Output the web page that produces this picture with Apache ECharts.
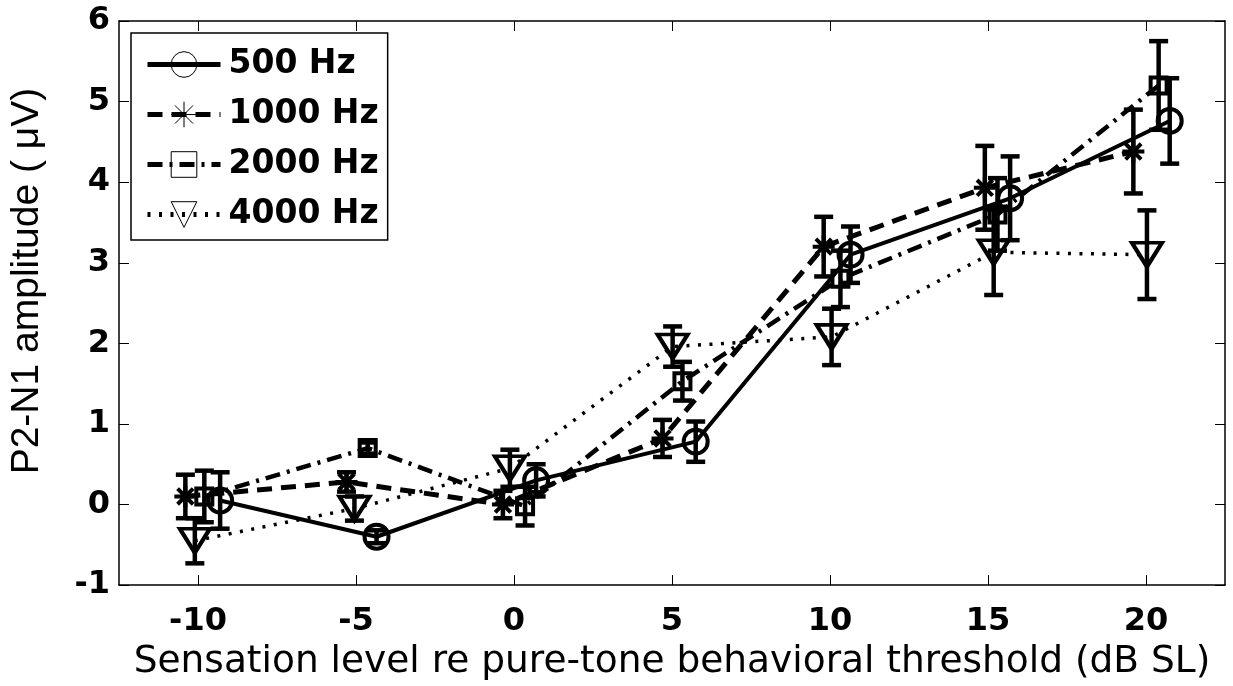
<!DOCTYPE html>
<html><head><meta charset="utf-8">
<script src="https://cdn.jsdelivr.net/npm/echarts@6/dist/echarts.min.js"></script>
<style>html,body{margin:0;padding:0;background:#fff}#c{width:1233px;height:686px}</style>
</head><body><div id="c"></div>
<script>
// ---- data ----
const seriesNames = ['500 Hz', '1000 Hz', '2000 Hz', '4000 Hz'];
const xTicks = [-10, -5, 0, 5, 10, 15, 20];
const yTicks = [-1, 0, 1, 2, 3, 4, 5, 6];
const xTitle = 'Sensation level re pure-tone behavioral threshold (dB SL)';
const yTitle = 'P2-N1 amplitude ( \u03bcV)';

const x500 = [-9.3, -4.35, 0.7, 5.75, 10.65, 15.7, 20.75];
const y500 = [0.05, -0.40, 0.30, 0.78, 3.10, 3.80, 4.76];
const e500 = [0.35, 0.08, 0.20, 0.25, 0.35, 0.52, 0.53];

const x1000 = [-10.4, -5.3, -0.35, 4.7, 9.8, 14.9, 19.6];
const y1000 = [0.10, 0.28, 0.00, 0.82, 3.20, 3.93, 4.38];
const e1000 = [0.27, 0.12, 0.17, 0.23, 0.37, 0.52, 0.52];

const x2000 = [-9.8, -4.63, 0.35, 5.33, 10.33, 15.3, 20.4];
const y2000 = [0.10, 0.70, -0.02, 1.53, 2.80, 3.60, 5.20];
const e2000 = [0.32, 0.07, 0.24, 0.24, 0.35, 0.45, 0.55];

const x4000 = [-10.1, -5.05, -0.13, 5.02, 10.05, 15.18, 20.03];
const y4000 = [-0.45, -0.05, 0.45, 1.96, 2.08, 3.13, 3.10];
const e4000 = [0.28, 0.15, 0.23, 0.25, 0.35, 0.53, 0.55];

// ---- helpers ----
const pts = (xs, ys) => xs.map((x, i) => [x, ys[i]]);
const errData = (xs, ys, es) => xs.map((x, i) => [x, ys[i], es[i]]);
const errRender = (params, api) => {
  const x = api.value(0), y = api.value(1), e = api.value(2);
  const t = api.coord([x, y + e]), b = api.coord([x, y - e]);
  const hw = 9.5;
  const style = { stroke: '#000', lineWidth: 4.5, fill: null };
  return { type: 'group', children: [
    { type: 'line', shape: { x1: t[0], y1: t[1], x2: b[0], y2: b[1] }, style },
    { type: 'line', shape: { x1: t[0] - hw, y1: t[1], x2: t[0] + hw, y2: t[1] }, style },
    { type: 'line', shape: { x1: b[0] - hw, y1: b[1], x2: b[0] + hw, y2: b[1] }, style }
  ]};
};
const ASTERISK = 'path://M10,0L10,20M0,10L20,10M2.93,2.93L17.07,17.07M2.93,17.07L17.07,2.93';
const TRI_DOWN = 'path://M0,0L20,0L10,16Z';
const clear = 'rgba(0,0,0,0)';

const lineSeries = (name, xs, ys, symbol, size, dash, width) => ({
  name, type: 'line', data: pts(xs, ys), symbol, symbolSize: size, showAllSymbol: true,
  lineStyle: { color: '#000', width, type: dash },
  itemStyle: { color: clear, borderColor: '#000', borderWidth: 4 },
  z: 3, animation: false
});
const errSeries = (name, xs, ys, es) => ({
  name, type: 'custom', data: errData(xs, ys, es), renderItem: errRender,
  encode: { x: 0, y: 1 }, z: 4, animation: false, silent: true
});

const tickFont = { fontFamily: 'DejaVu Sans', fontWeight: 'bold', fontSize: 32, color: '#000' };

const option = {
  backgroundColor: '#fff',
  animation: false,
  grid: { left: 119, right: 8, top: 21, bottom: 99, containLabel: false },
  xAxis: [{
    type: 'value', min: -12.5, max: 22.5, position: 'bottom',
    axisLine: { show: true, onZero: false, lineStyle: { color: '#000', width: 1.5 } },
    axisTick: { show: true, inside: true, length: 10, customValues: xTicks, lineStyle: { color: '#000', width: 1 } },
    axisLabel: Object.assign({ customValues: xTicks, margin: 21 }, tickFont),
    splitLine: { show: false },
    name: xTitle, nameLocation: 'middle', nameGap: 57,
    nameTextStyle: { fontFamily: 'DejaVu Sans', fontSize: 37.5, color: '#000' }
  }, {
    type: 'value', min: -12.5, max: 22.5, position: 'top',
    axisLine: { show: true, onZero: false, lineStyle: { color: '#000', width: 1.5 } },
    axisTick: { show: true, inside: true, length: 10, customValues: xTicks, lineStyle: { color: '#000', width: 1 } },
    axisLabel: { show: false }, splitLine: { show: false }
  }],
  yAxis: [{
    type: 'value', min: -1, max: 6, interval: 1, position: 'left',
    axisLine: { show: true, onZero: false, lineStyle: { color: '#000', width: 1.5 } },
    axisTick: { show: true, inside: true, length: 10, lineStyle: { color: '#000', width: 1 } },
    axisLabel: Object.assign({ margin: 9 }, tickFont),
    splitLine: { show: false },
    name: yTitle, nameLocation: 'middle', nameGap: 72,
    nameTextStyle: { fontFamily: 'Liberation Sans', fontSize: 39, color: '#000', padding: [0, 0, 0, 44] }
  }, {
    type: 'value', min: -1, max: 6, interval: 1, position: 'right',
    axisLine: { show: true, onZero: false, lineStyle: { color: '#000', width: 1.5 } },
    axisTick: { show: true, inside: true, length: 10, lineStyle: { color: '#000', width: 1 } },
    axisLabel: { show: false }, splitLine: { show: false }
  }],
  legend: {
    data: seriesNames, orient: 'vertical', left: 131, top: 33,
    padding: [15, 9, 9, 14], itemWidth: 73, itemHeight: 32, itemGap: 17,
    backgroundColor: '#fff', borderColor: '#000', borderWidth: 1.5,
    textStyle: { fontFamily: 'DejaVu Sans', fontWeight: 'bold', fontSize: 33, lineHeight: 32, color: '#000', padding: [0, 0, 0, 3] },
    itemStyle: { color: clear, borderColor: '#000', borderWidth: 1 },
    lineStyle: { width: 5, color: '#000' },
    selectedMode: false
  },
  series: [
    lineSeries('500 Hz', x500, y500, 'circle', 24, 'solid', 4),
    lineSeries('1000 Hz', x1000, y1000, ASTERISK, 22, [15, 9], 5),
    lineSeries('2000 Hz', x2000, y2000, 'rect', 16, [15, 7, 3, 7], 4.5),
    lineSeries('4000 Hz', x4000, y4000, TRI_DOWN, [30, 24], [3, 8.5], 3.5),
    errSeries('e500', x500, y500, e500),
    errSeries('e1000', x1000, y1000, e1000),
    errSeries('e2000', x2000, y2000, e2000),
    errSeries('e4000', x4000, y4000, e4000)
  ]
};
const chart = echarts.init(document.getElementById('c'), null, { renderer: 'canvas' });
chart.setOption(option);
</script>
</body></html>
